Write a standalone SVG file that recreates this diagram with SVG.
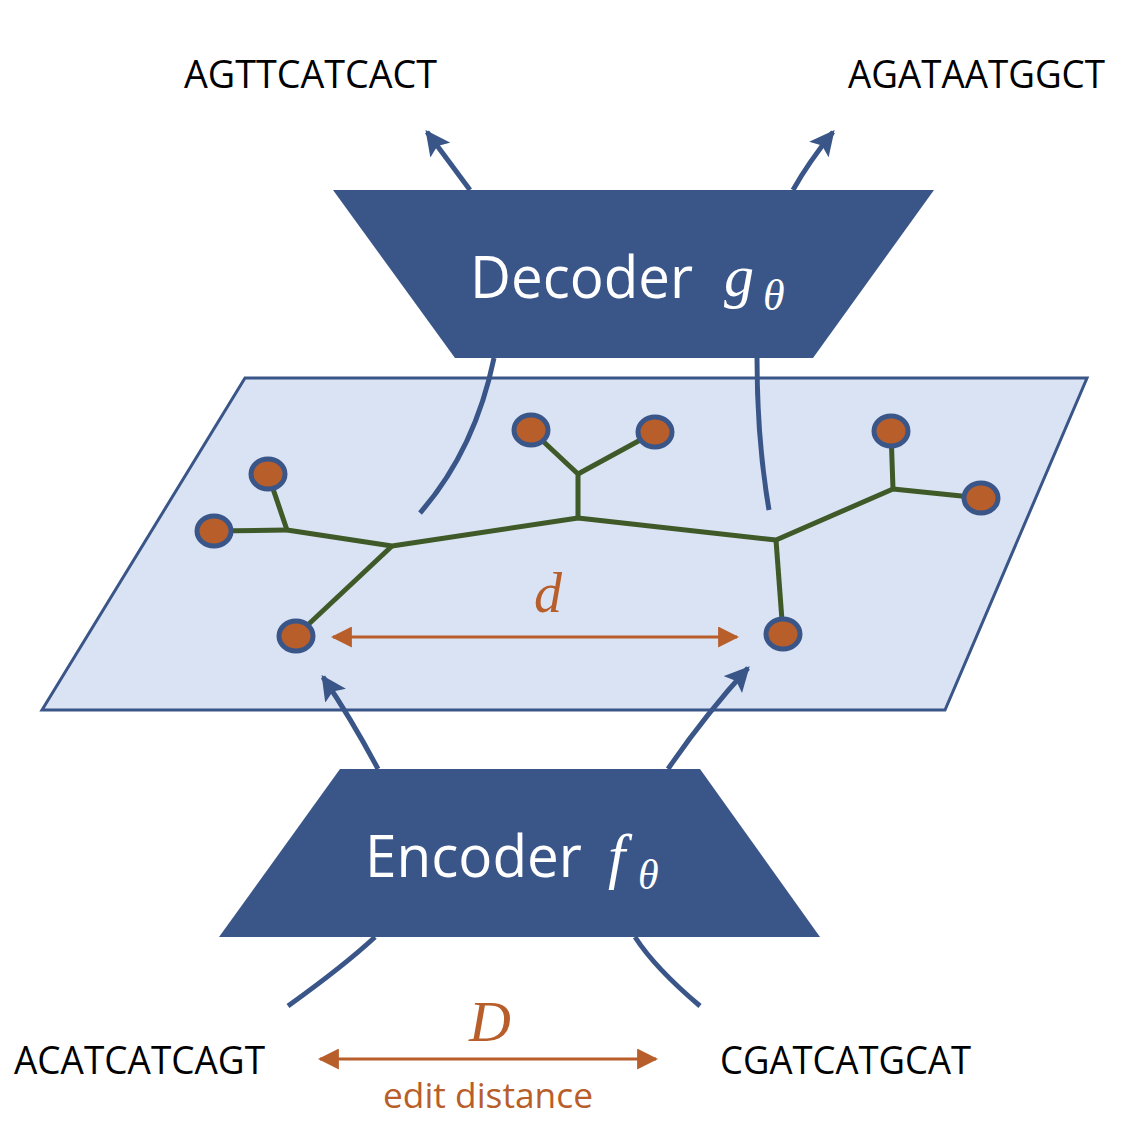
<svg xmlns="http://www.w3.org/2000/svg" width="1143" height="1143" viewBox="0 0 1143 1143">
<defs>
<marker id="ab" viewBox="0 0 10 10" refX="9" refY="5" markerWidth="5" markerHeight="5" orient="auto" markerUnits="strokeWidth"><path d="M0,0 L10,5 L0,10 L2,5 z" fill="#3A5689"/></marker>
<marker id="ao" viewBox="0 0 10 10" refX="9" refY="5" markerWidth="7" markerHeight="7" orient="auto-start-reverse" markerUnits="strokeWidth"><path d="M0,0 L10,5 L0,10 z" fill="#B85E2A"/></marker>
<style>
.blk{fill:#3A5689}
.bl{fill:none;stroke:#3A5689;stroke-width:5}
.tr{fill:none;stroke:#3F5A28;stroke-width:5;stroke-linejoin:round}
.nd{fill:#B85E2A;stroke:#3A5689;stroke-width:5}
.or{fill:none;stroke:#B85E2A;stroke-width:3}
.seq{font-family:'Open Sans','Liberation Sans',sans-serif;font-size:38px;fill:#000}
.lbl{font-family:'Open Sans','Liberation Sans',sans-serif;font-size:58px;fill:#fff}
.m{font-family:'Liberation Serif','DejaVu Serif',serif;font-style:italic}
</style>
</defs>
<g id="plane"><polygon points="245,378 1087,378 945,710 42,710" fill="#DAE3F3" stroke="#3A5689" stroke-width="3"/></g>
<g id="decoder"><polygon class="blk" points="333,190 934,190 813,358 455,358"/>
<text class="lbl" x="470" y="298" textLength="223" lengthAdjust="spacingAndGlyphs">Decoder</text>
<text class="m" x="724" y="296" font-size="60" fill="#fff">g</text><text class="m" x="763" y="310" font-size="44" fill="#fff">θ</text></g>
<g id="encoder"><polygon class="blk" points="340,769 700,769 820,937 219,937"/>
<text class="lbl" x="365" y="877" textLength="217" lengthAdjust="spacingAndGlyphs">Encoder</text>
<text class="m" x="608" y="877" font-size="62" fill="#fff">f</text><text class="m" x="638" y="889" font-size="42" fill="#fff">θ</text></g>
<g id="connectors">
<path class="bl" d="M470,190 L427,132" marker-end="url(#ab)"/>
<path class="bl" d="M793,190 Q808,163 833,132" marker-end="url(#ab)"/>
<path class="bl" d="M494,358 Q475,450 420,513"/>
<path class="bl" d="M757,358 Q757,440 769,510"/>
<path class="bl" d="M378,769 Q352,720 323,677" marker-end="url(#ab)"/>
<path class="bl" d="M668,769 Q705,715 748,668" marker-end="url(#ab)"/>
<path class="bl" d="M375,937 Q345,965 288,1006"/>
<path class="bl" d="M635,937 Q655,968 700,1006"/>
<g id="tree">
<polyline class="tr" points="268,474 287,530 392,546 578,518 776,540 893,489 981,498"/>
<polyline class="tr" points="214,531 287,530"/>
<polyline class="tr" points="392,546 296,636"/>
<polyline class="tr" points="578,518 578,474 531,430"/>
<polyline class="tr" points="578,474 655,432"/>
<polyline class="tr" points="776,540 783,634"/>
<polyline class="tr" points="893,489 891,431"/>
</g>
<path class="or" d="M333,637 L737,637" marker-start="url(#ao)" marker-end="url(#ao)"/>
<path class="or" d="M320,1059 L656,1059" marker-start="url(#ao)" marker-end="url(#ao)"/>
</g>
<g id="nodes">
<ellipse class="nd" cx="268" cy="474" rx="17" ry="15"/>
<ellipse class="nd" cx="214" cy="531" rx="17" ry="15"/>
<ellipse class="nd" cx="296" cy="636" rx="17" ry="15"/>
<ellipse class="nd" cx="531" cy="430" rx="17" ry="15"/>
<ellipse class="nd" cx="655" cy="432" rx="17" ry="15"/>
<ellipse class="nd" cx="783" cy="634" rx="17" ry="15"/>
<ellipse class="nd" cx="891" cy="431" rx="17" ry="15"/>
<ellipse class="nd" cx="981" cy="498" rx="17" ry="15"/>
</g>
<g id="labels">
<text class="seq" x="184" y="88" textLength="253" lengthAdjust="spacingAndGlyphs">AGTTCATCACT</text>
<text class="seq" x="848" y="88" textLength="257" lengthAdjust="spacingAndGlyphs">AGATAATGGCT</text>
<text class="seq" x="14" y="1074" textLength="251" lengthAdjust="spacingAndGlyphs">ACATCATCAGT</text>
<text class="seq" x="720" y="1074" textLength="251" lengthAdjust="spacingAndGlyphs">CGATCATGCAT</text>
<text class="m" x="548" y="612" font-size="56" fill="#B85E2A" text-anchor="middle">d</text>
<text class="m" x="490" y="1041" font-size="58" fill="#B85E2A" text-anchor="middle">D</text>
<text x="383" y="1108" font-family="'Open Sans','Liberation Sans',sans-serif" font-size="34" fill="#B85E2A" textLength="210" lengthAdjust="spacingAndGlyphs">edit distance</text>
</g>
</svg>
